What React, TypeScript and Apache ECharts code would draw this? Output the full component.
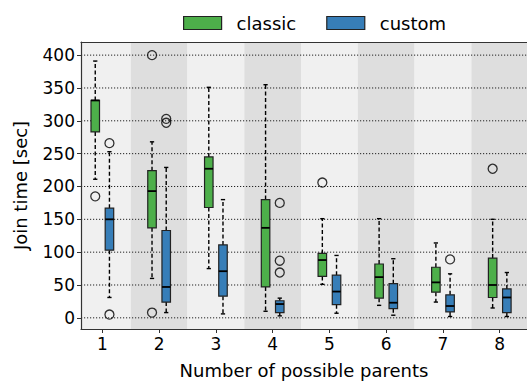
import React, { useEffect, useRef } from "react";
import * as echarts from "echarts";

// Number of possible parents
const positions = [1, 2, 3, 4, 5, 6, 7, 8];
const yTicks = [0, 50, 100, 150, 200, 250, 300, 350, 400];

// [whiskerLow, q1, median, q3, whiskerHigh]
const classicStats = [
  [211, 283, 331, 331, 391],
  [60, 137, 193, 224, 268],
  [75, 168, 227, 245, 351],
  [10, 47, 137, 180, 355],
  [51, 63, 88, 98, 151],
  [19, 30, 62, 82, 151],
  [24, 39, 54, 77, 114],
  [15, 31, 50, 91, 150],
];
const customStats = [
  [31, 103, 150, 167, 253],
  [8, 24, 47, 133, 229],
  [6, 33, 71, 111, 180],
  [3, 8, 21, 26, 30],
  [7, 20, 40, 65, 95],
  [4, 14, 23, 52, 90],
  [2, 9, 18, 35, 67],
  [2, 8, 31, 44, 69],
];
// outliers: [position, value]
const classicOutliers = [
  [1, 185],
  [2, 400],
  [2, 8],
  [5, 206],
  [8, 227],
];
const customOutliers = [
  [1, 266],
  [1, 5],
  [2, 303],
  [2, 297],
  [4, 175],
  [4, 87],
  [4, 69],
  [7, 89],
];

const OFFSET = 0.125;
const BOX_W = 0.15;
const CAP_W = 0.075;
const GREEN = "#4daf4a";
const BLUE = "#377eb8";
const FONT = "DejaVu Sans";

export default function App() {
  const ref = useRef<HTMLDivElement>(null);
  useEffect(() => {
    document.body.style.margin = "0";
    const chart = echarts.init(ref.current!, null, { renderer: "svg" });

    const boxRender = (color: string) => (params: any, api: any) => {
      const x = api.value(0);
      const wl = api.coord([x, api.value(1)]);
      const q1 = api.coord([x, api.value(2)]);
      const med = api.coord([x, api.value(3)]);
      const q3 = api.coord([x, api.value(4)]);
      const wh = api.coord([x, api.value(5)]);
      const hw = api.size([BOX_W, 0])[0] / 2;
      const cw = api.size([CAP_W, 0])[0] / 2;
      const cx = q1[0];
      const dash = { stroke: "#000", lineWidth: 1.4, lineDash: [4, 2.5] };
      const solid = { stroke: "#000", lineWidth: 1.4 };
      return {
        type: "group",
        children: [
          { type: "line", shape: { x1: cx, y1: q1[1], x2: cx, y2: wl[1] }, style: dash },
          { type: "line", shape: { x1: cx, y1: q3[1], x2: cx, y2: wh[1] }, style: dash },
          { type: "line", shape: { x1: cx - cw, y1: wl[1], x2: cx + cw, y2: wl[1] }, style: solid },
          { type: "line", shape: { x1: cx - cw, y1: wh[1], x2: cx + cw, y2: wh[1] }, style: solid },
          {
            type: "rect",
            shape: { x: cx - hw, y: q3[1], width: hw * 2, height: q1[1] - q3[1] },
            style: { fill: color, stroke: "#222", lineWidth: 1.2 },
          },
          { type: "line", shape: { x1: cx - hw, y1: med[1], x2: cx + hw, y2: med[1] }, style: { stroke: "#000", lineWidth: 1.8 } },
        ],
      };
    };

    const option: any = {
      animation: false,
      textStyle: { fontFamily: FONT },
      legend: {
        top: 9,
        left: 178,
        itemWidth: 38,
        itemHeight: 13,
        itemGap: 30,
        textStyle: { fontFamily: FONT, fontSize: 18, color: "#000", padding: [0, 0, 0, 10] },
        data: [
          { name: "classic", icon: "rect", itemStyle: { color: GREEN, borderColor: "#222", borderWidth: 1.2 } },
          { name: "custom", icon: "rect", itemStyle: { color: BLUE, borderColor: "#222", borderWidth: 1.2 } },
        ],
      },
      grid: { left: 81, right: 0, top: 42, bottom: 53 },
      xAxis: [
        {
          type: "value",
          min: 0.624,
          max: 8.48,
          z: 10,
          name: "Number of possible parents",
          nameLocation: "middle",
          nameGap: 32,
          nameTextStyle: { fontFamily: FONT, fontSize: 18, color: "#000" },
          axisLine: { show: true, onZero: false, lineStyle: { color: "#333", width: 1.2 } },
          axisTick: { show: true, length: 4, customValues: positions, lineStyle: { color: "#333" } },
          axisLabel: { customValues: positions, fontFamily: FONT, fontSize: 17, color: "#000", margin: 6 },
          splitLine: { show: false },
        },
        {
          type: "value",
          position: "top",
          min: 0.624,
          max: 8.48,
          z: 10,
          axisLine: { show: true, onZero: false, lineStyle: { color: "#333", width: 1.2 } },
          axisTick: { show: false },
          axisLabel: { show: false },
          splitLine: { show: false },
        },
      ],
      yAxis: {
        type: "value",
        min: -17,
        max: 420,
        z: 10,
        name: "Join time [sec]",
        nameLocation: "middle",
        nameGap: 52,
        nameTextStyle: { fontFamily: FONT, fontSize: 18, color: "#000" },
        axisLine: { show: true, onZero: false, lineStyle: { color: "#333", width: 1.2 } },
        axisTick: { show: true, length: 4, customValues: yTicks, lineStyle: { color: "#333" } },
        axisLabel: { customValues: yTicks, fontFamily: FONT, fontSize: 17, color: "#000", margin: 6 },
        splitLine: { show: false },
      },
      series: [
        {
          type: "custom",
          name: "bands",
          z: 0,
          silent: true,
          data: positions.map((p) => [p]),
          renderItem: (params: any, api: any) => {
            const p = api.value(0);
            const cs = params.coordSys;
            const a = api.coord([p - 0.5, 0])[0];
            const b = api.coord([p + 0.5, 0])[0];
            const x0 = Math.max(a, cs.x);
            const x1 = Math.min(b, cs.x + cs.width);
            return {
              type: "rect",
              shape: { x: x0, y: cs.y, width: x1 - x0, height: cs.height },
              style: { fill: p % 2 === 1 ? "#f0f0f0" : "#dedede" },
            };
          },
        },
        {
          type: "custom",
          name: "gridlines",
          z: 1,
          silent: true,
          data: yTicks.map((v) => [1, v]),
          renderItem: (params: any, api: any) => {
            const cs = params.coordSys;
            const y = api.coord([1, api.value(1)])[1];
            return {
              type: "line",
              shape: { x1: cs.x, y1: y, x2: cs.x + cs.width, y2: y },
              style: { stroke: "#222", lineWidth: 1, lineDash: [1.2, 1.8] },
            };
          },
        },
        {
          type: "custom",
          name: "classic",
          z: 3,
          itemStyle: { color: GREEN },
          data: positions.map((p, i) => [p - OFFSET, ...classicStats[i]]),
          renderItem: boxRender(GREEN),
        },
        {
          type: "custom",
          name: "custom",
          z: 3,
          itemStyle: { color: BLUE },
          data: positions.map((p, i) => [p + OFFSET, ...customStats[i]]),
          renderItem: boxRender(BLUE),
        },
        {
          type: "scatter",
          name: "classicOut",
          z: 4,
          symbol: "circle",
          symbolSize: 9,
          itemStyle: { color: "rgba(0,0,0,0)", borderColor: "#000", borderWidth: 1.3 },
          data: classicOutliers.map(([p, v]) => [p - OFFSET, v]),
        },
        {
          type: "scatter",
          name: "customOut",
          z: 4,
          symbol: "circle",
          symbolSize: 9,
          itemStyle: { color: "rgba(0,0,0,0)", borderColor: "#000", borderWidth: 1.3 },
          data: customOutliers.map(([p, v]) => [p + OFFSET, v]),
        },
      ],
    };
    chart.setOption(option);
    return () => chart.dispose();
  }, []);
  return <div ref={ref} style={{ width: 527, height: 384 }} />;
}
